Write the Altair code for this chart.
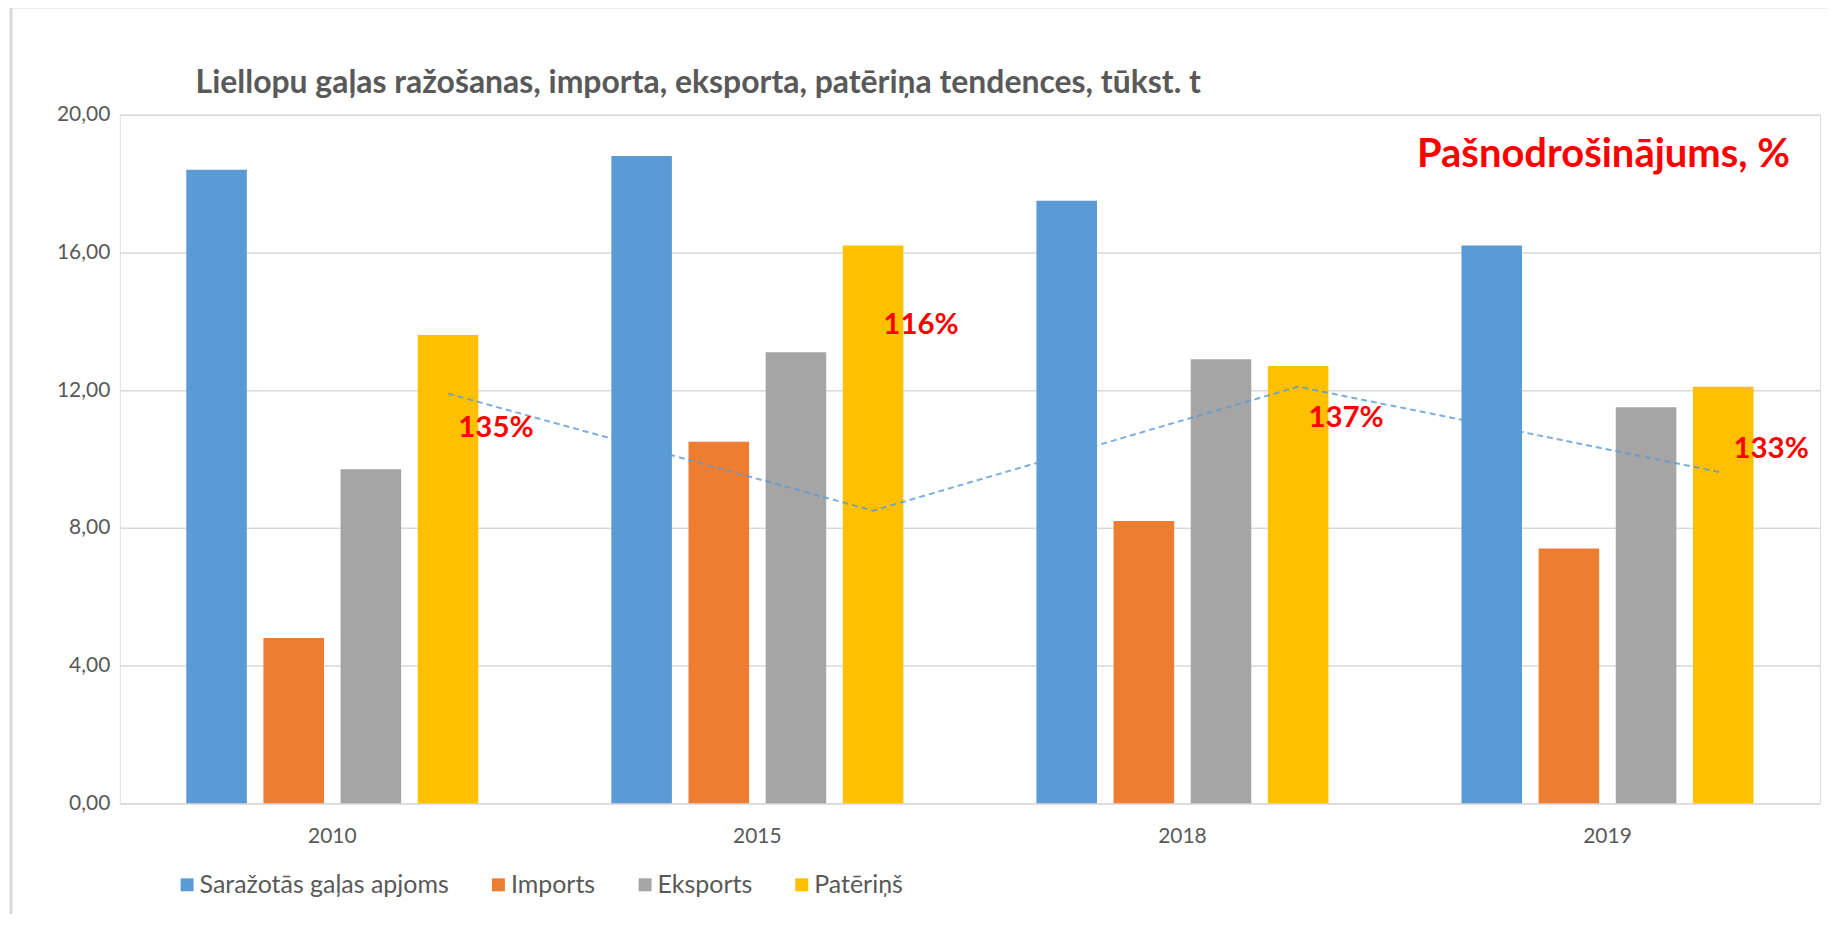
import altair as alt
import pandas as pd

# ---- data ----
years = ["2010", "2015", "2018", "2019"]
series = ["Saražotās gaļas apjoms", "Imports", "Eksports", "Patēriņš"]
production = [18.4, 18.8, 17.5, 16.2]
imports = [4.8, 10.5, 8.2, 7.4]
exports = [9.7, 13.1, 12.9, 11.5]
consumption = [13.6, 16.2, 12.7, 12.1]
colors = ["#5B9BD5", "#ED7D31", "#A5A5A5", "#FFC000"]

ratio_labels = ["135%", "116%", "137%", "133%"]
ratio_line = [11.9, 8.5, 12.1, 9.6]        # dashed trend line (left-axis units)
ratio_label_y = [10.9, 13.9, 11.2, 10.3]   # where the % labels sit (left-axis units)

title_text = "Liellopu gaļas ražošanas, importa, eksporta, patēriņa tendences, tūkst. t"
note_text = "Pašnodrošinājums, %"
note_year = "2019"
note_y = 18.83

FONT = "Lato"
GREY = "#595959"
GRID = "#D9D9D9"

# ---- tables ----
rows = []
for s, vals in zip(series, [production, imports, exports, consumption]):
    for y, v in zip(years, vals):
        rows.append({"year": y, "series": s, "value": v})
bars_df = pd.DataFrame(rows)

line_df = pd.DataFrame({"year": years, "series": [series[3]] * 4,
                        "value": ratio_line, "label": ratio_labels,
                        "label_y": ratio_label_y})
note_df = pd.DataFrame({"year": [note_year], "value": [note_y], "label": [note_text]})
title_df = pd.DataFrame({"label": [title_text]})
frame_df = pd.DataFrame({"a": [0]})

x_enc = alt.X("year:N", sort=years,
              scale=alt.Scale(domain=years, paddingInner=0.313, paddingOuter=0.1565),
              axis=alt.Axis(title=None, labelAngle=0, labelFontSize=21, labelFont=FONT,
                            labelColor=GREY, labelPadding=22, ticks=False,
                            domain=True, domainColor=GRID, domainWidth=1.5, grid=False))
y_enc = alt.Y("value:Q", scale=alt.Scale(domain=[0, 20], nice=False),
              axis=alt.Axis(title=None, values=[0, 4, 8, 12, 16, 20],
                            labelExpr="replace(format(datum.value, '.2f'), '.', ',')",
                            labelFontSize=21, labelFont=FONT, labelColor=GREY,
                            labelPadding=10, ticks=False, domain=False,
                            gridColor=GRID, gridWidth=1.5))
xo_scale = alt.Scale(domain=series, paddingInner=0.215, paddingOuter=0)

bars = alt.Chart(bars_df).mark_bar().encode(
    x=x_enc, y=y_enc,
    xOffset=alt.XOffset("series:N", sort=series, scale=xo_scale),
    color=alt.Color("series:N", sort=series,
                    scale=alt.Scale(domain=series, range=colors),
                    legend=alt.Legend(title=None, orient="none", legendX=55, legendY=759,
                                      direction="horizontal", columns=4,
                                      symbolType="square", symbolSize=169,
                                      symbolStrokeWidth=0, labelFontSize=25,
                                      labelFont=FONT, labelColor=GREY, labelLimit=500,
                                      columnPadding=37, labelOffset=0, padding=0)),
)

line = alt.Chart(line_df).mark_line(color="#5B9BD5", strokeDash=[6, 4],
                                    strokeWidth=2, opacity=0.8).encode(
    x=alt.X("year:N", sort=years),
    y=alt.Y("value:Q"),
    xOffset=alt.XOffset("series:N", scale=xo_scale),
)

labels = alt.Chart(line_df).mark_text(color="#FF0000", fontSize=29.5, fontWeight="bold",
                                      font=FONT, dx=48, baseline="middle").encode(
    x=alt.X("year:N", sort=years),
    y=alt.Y("label_y:Q"),
    xOffset=alt.XOffset("series:N", scale=xo_scale),
    text="label:N",
)

note = alt.Chart(note_df).mark_text(color="#FF0000", fontSize=40, fontWeight="bold",
                                    font=FONT, dx=-4, baseline="middle").encode(
    x=alt.X("year:N", sort=years),
    y=alt.Y("value:Q"),
    text="label:N",
)

title = alt.Chart(title_df).mark_text(color=GREY, fontSize=32, fontWeight="bold",
                                      font=FONT, align="left",
                                      baseline="alphabetic").encode(
    x=alt.value(76), y=alt.value(-22), text="label:N")

frame_top = alt.Chart(frame_df).mark_rule(color=GRID, strokeWidth=3).encode(
    x=alt.value(-109), x2=alt.value(1720), y=alt.value(-108))
frame_left = alt.Chart(frame_df).mark_rule(color=GRID, strokeWidth=3).encode(
    x=alt.value(-109), y=alt.value(-108), y2=alt.value(840))

chart = alt.layer(bars, line, labels, note, title, frame_top, frame_left).properties(
    width=1704, height=690,
    autosize="none",
    padding={"left": 112, "top": 106, "right": 8, "bottom": 110},
).configure_view(stroke=None).configure(background="white")

chart.save("out.html", embed_options={"renderer": "svg", "actions": False})
